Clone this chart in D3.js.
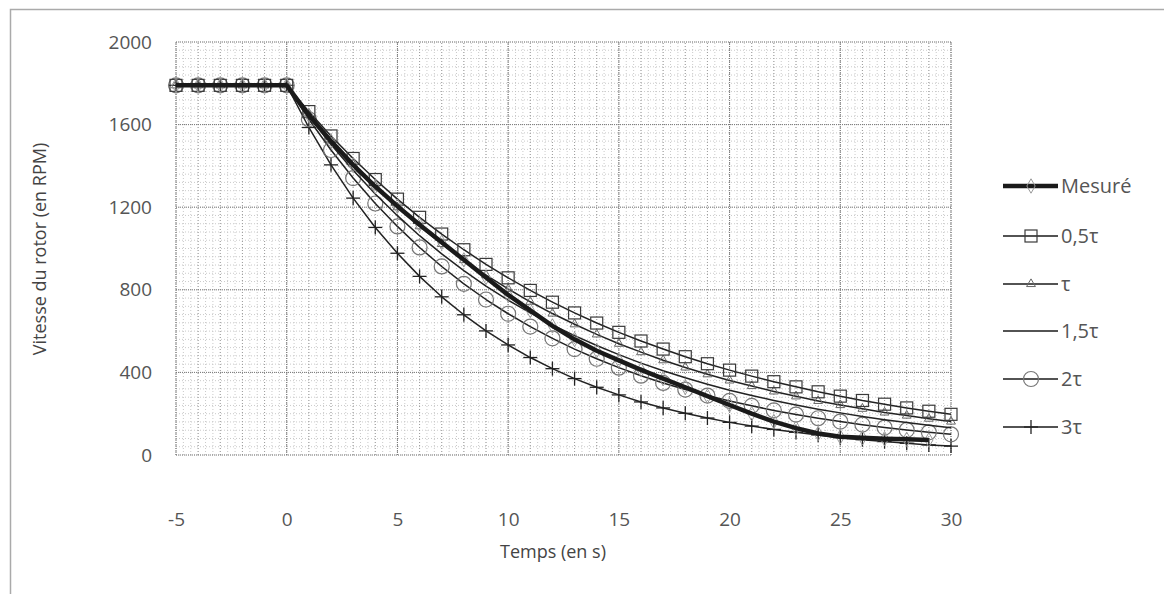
<!DOCTYPE html>
<html><head><meta charset="utf-8">
<script src="https://cdn.jsdelivr.net/npm/d3@7"></script>
<style>
html,body{margin:0;padding:0;background:#fff;}
svg{display:block;font-family:"Open Sans","Noto Sans",sans-serif;}
</style></head>
<body><svg id="c" width="1164" height="594"></svg>
<script>
// ---- data ----
const times = [-5,-4,-3,-2,-1,0,1,2,3,4,5,6,7,8,9,10,11,12,13,14,15,16,17,18,19,20,21,22,23,24,25,26,27,28,29,30];
const mesure = [1790,1790,1790,1790,1790,1790,1645,1520,1405,1300,1205,1115,1030,945,860,775,700,625,560,505,458,412,370,328,285,242,200,162,130,104,88,83,79,76,73];
const tau05 = [1790,1790,1790,1790,1790,1790,1663,1545,1436,1334,1239,1151,1070,994,923,858,797,740,688,639,594,552,513,476,442,411,382,355,330,306,285,264,246,228,212,197];
const tau10 = [1790,1790,1790,1790,1790,1790,1652,1525,1408,1300,1200,1108,1022,944,871,804,742,685,633,584,539,498,459,424,391,361,334,308,284,262,242,224,206,191,176,162];
const tau15 = [1790,1790,1790,1790,1790,1790,1641,1504,1379,1264,1159,1062,974,893,818,750,688,630,578,530,486,445,408,374,343,314,288,264,242,222,204,187,171,157,144,132];
const tau20 = [1790,1790,1790,1790,1790,1790,1626,1477,1341,1218,1107,1005,913,829,753,684,622,565,513,466,423,384,349,317,288,262,238,216,196,178,162,147,133,121,110,100];
const tau30 = [1790,1790,1790,1790,1790,1790,1586,1405,1244,1102,977,865,766,679,601,533,472,418,370,328,291,257,228,202,179,158,140,124,110,97,84,74,65,57,49,43];
const seriesNames = ["Mesuré","0,5τ","τ","1,5τ","2τ","3τ"];
const xTicks = [-5,0,5,10,15,20,25,30];
const yTicks = [0,400,800,1200,1600,2000];
const xTitle = "Temps (en s)";
const yTitle = "Vitesse du rotor (en RPM)";

// ---- layout ----
const svg = d3.select("#c");
const x = d3.scaleLinear().domain([-5,30]).range([176,951]);
const y = d3.scaleLinear().domain([0,2000]).range([455,42]);

// outer frame (scan border)
svg.append("rect").attr("x",10.5).attr("y",9.5).attr("width",1300).attr("height",700)
  .attr("fill","none").attr("stroke","#aaa").attr("stroke-width",1.5);

const plot = svg.append("g");
// minor grid
const minorX = d3.range(-5, 30.001, 1/3);
const minorY = d3.range(0, 2000.001, 40);
plot.selectAll(".mx").data(minorX).join("line")
  .attr("x1",d=>x(d)).attr("x2",d=>x(d)).attr("y1",y(0)).attr("y2",y(2000))
  .attr("stroke","#bdbdbd").attr("stroke-width",0.8).attr("stroke-dasharray","1,2");
plot.selectAll(".my").data(minorY).join("line")
  .attr("x1",x(-5)).attr("x2",x(30)).attr("y1",d=>y(d)).attr("y2",d=>y(d))
  .attr("stroke","#bdbdbd").attr("stroke-width",0.8).attr("stroke-dasharray","1,2");
// medium grid every 1 s
plot.selectAll(".medx").data(d3.range(-5,31,1)).join("line")
  .attr("x1",d=>x(d)).attr("x2",d=>x(d)).attr("y1",y(0)).attr("y2",y(2000))
  .attr("stroke","#999").attr("stroke-width",0.9).attr("stroke-dasharray","1,2");
// major grid
plot.selectAll(".Mx").data(xTicks).join("line")
  .attr("x1",d=>x(d)).attr("x2",d=>x(d)).attr("y1",y(0)).attr("y2",y(2000))
  .attr("stroke","#777").attr("stroke-width",1).attr("stroke-dasharray","1,1");
plot.selectAll(".My").data(yTicks).join("line")
  .attr("x1",x(-5)).attr("x2",x(30)).attr("y1",d=>y(d)).attr("y2",d=>y(d))
  .attr("stroke","#777").attr("stroke-width",1).attr("stroke-dasharray","1,1");

// axes via d3 axis (labels only)
const xAxis = svg.append("g").attr("transform",`translate(0,${y(0)})`)
  .call(d3.axisBottom(x).tickValues(xTicks).tickSize(0).tickPadding(58).tickFormat(d=>d<0?"-"+Math.abs(d):String(d)));
xAxis.select(".domain").remove();
xAxis.selectAll("text").attr("font-size",19).attr("fill","#555").attr("font-family","'Open Sans',sans-serif");
const yAxis = svg.append("g").attr("transform",`translate(152,0)`)
  .call(d3.axisLeft(y).tickValues(yTicks).tickSize(0).tickPadding(0).tickFormat(d3.format("d")));
yAxis.select(".domain").remove();
yAxis.selectAll("text").attr("font-size",19).attr("fill","#555").attr("font-family","'Open Sans',sans-serif");

svg.append("text").attr("x",553).attr("y",558).attr("text-anchor","middle")
  .attr("font-size",18).attr("fill","#444").text(xTitle);
svg.append("text").attr("transform","translate(46,249) rotate(-90)").attr("text-anchor","middle")
  .attr("font-size",18).attr("fill","#444").text(yTitle);

// ---- series ----
const mkData = arr => arr.map((v,i)=>({t:times[i], v}));
const line = d3.line().x(d=>x(d.t)).y(d=>y(d.v));
const series = [
  {name:seriesNames[5], vals:tau30, w:1.5, marker:"plus"},
  {name:seriesNames[4], vals:tau20, w:1.5, marker:"circle"},
  {name:seriesNames[3], vals:tau15, w:1.5, marker:"none"},
  {name:seriesNames[2], vals:tau10, w:1.5, marker:"triangle"},
  {name:seriesNames[1], vals:tau05, w:1.5, marker:"square"},
  {name:seriesNames[0], vals:mesure, w:4.5, marker:"diamond"}
];
function drawMarker(g, kind, cx, cy){
  if(kind==="square") g.append("rect").attr("x",cx-6).attr("y",cy-6).attr("width",12).attr("height",12)
    .attr("fill","none").attr("stroke","#3a3a3a").attr("stroke-width",1.2);
  else if(kind==="circle") g.append("circle").attr("cx",cx).attr("cy",cy).attr("r",7.5)
    .attr("fill","none").attr("stroke","#777").attr("stroke-width",1.2);
  else if(kind==="triangle") g.append("path").attr("d",d3.symbol().type(d3.symbolTriangle).size(34)())
    .attr("transform",`translate(${cx},${cy})`).attr("fill","none").attr("stroke","#666").attr("stroke-width",1);
  else if(kind==="diamond") g.append("path").attr("d",d3.symbol().type(d3.symbolDiamond).size(60)())
    .attr("transform",`translate(${cx},${cy})`).attr("fill","none").attr("stroke","#999").attr("stroke-width",1);
  else if(kind==="plus"){
    g.append("line").attr("x1",cx-7).attr("x2",cx+7).attr("y1",cy).attr("y2",cy).attr("stroke","#222").attr("stroke-width",1.3);
    g.append("line").attr("x1",cx).attr("x2",cx).attr("y1",cy-7).attr("y2",cy+7).attr("stroke","#222").attr("stroke-width",1.3);
  }
}
series.forEach(s=>{
  const data = mkData(s.vals);
  const g = svg.append("g");
  if(s.marker==="diamond"){
    data.forEach(d=>drawMarker(g,s.marker,x(d.t),y(d.v)));
    g.append("path").datum(data).attr("d",line).attr("fill","none").attr("stroke","#1a1a1a")
      .attr("stroke-width",s.w).attr("stroke-linejoin","round");
  } else {
    g.append("path").datum(data).attr("d",line).attr("fill","none").attr("stroke","#222")
      .attr("stroke-width",s.w).attr("stroke-linejoin","round");
    if(s.marker!=="none") data.forEach(d=>drawMarker(g,s.marker,x(d.t),y(d.v)));
  }
});

// ---- legend ----
const legRows = [186,236,284,331,379,427];
const legMarkers = ["diamond","square","triangle","none","circle","plus"];
const leg = svg.append("g");
seriesNames.forEach((n,i)=>{
  const yy = legRows[i];
  leg.append("line").attr("x1",1003).attr("x2",1058).attr("y1",yy).attr("y2",yy)
    .attr("stroke","#1a1a1a").attr("stroke-width",i===0?4.5:1.5);
  if(legMarkers[i]!=="none") drawMarker(leg, legMarkers[i], 1031, yy);
  leg.append("text").attr("x",1061).attr("y",yy).attr("dy","0.35em")
    .attr("font-size",20).attr("fill","#555").text(n);
});
</script></body></html>
